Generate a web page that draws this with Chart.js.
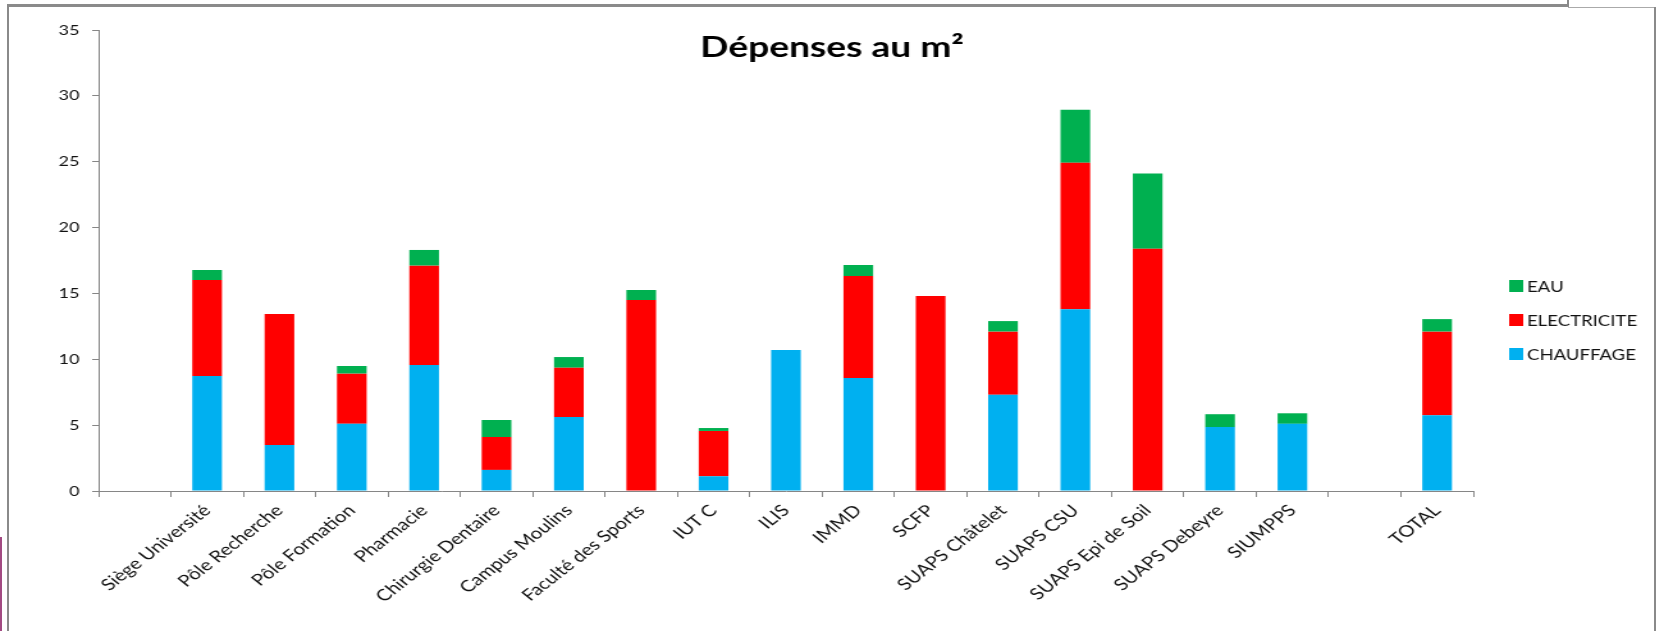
<!DOCTYPE html>
<html>
<head>
<meta charset="utf-8">
<title>Dépenses au m²</title>
<script src="https://cdn.jsdelivr.net/npm/chart.js@4.4.1/dist/chart.umd.min.js"></script>
<style>
  body { margin: 0; background: #fff; }
  #wrap { position: relative; width: 1657px; height: 631px; overflow: hidden; }
  /* the original screenshot is stretched sideways, so draw narrow and stretch the same way */
  #wrap canvas { position: absolute; left: 0; top: 0; transform: scaleX(1.28); transform-origin: 0 0; }
  .line { position: absolute; background: #8a8a8a; }
</style>
</head>
<body>
<div id="wrap">
  <canvas id="chart" width="1295" height="631"></canvas>
  <!-- sheet frame around the chart -->
  <div class="line" style="left:7px; top:4px; width:1562px; height:3px;"></div>
  <div class="line" style="left:1567px; top:0; width:2px; height:7px;"></div>
  <div class="line" style="left:1568px; top:7px; width:88px; height:1px; background:#aaa;"></div>
  <div class="line" style="left:1654px; top:7px; width:2px; height:624px;"></div>
  <div class="line" style="left:7px; top:4px; width:2px; height:627px;"></div>
  <div class="line" style="left:0; top:537px; width:2px; height:94px; background:#a24a82;"></div>
</div>
<script>
// ===== DATA =====
const categories = ['', 'Siège Université', 'Pôle Recherche', 'Pôle Formation', 'Pharmacie',
  'Chirurgie Dentaire', 'Campus Moulins', 'Faculté des Sports', 'IUT C', 'ILIS', 'IMMD', 'SCFP',
  'SUAPS Châtelet', 'SUAPS CSU', 'SUAPS Epi de Soil', 'SUAPS Debeyre', 'SIUMPPS', '', 'TOTAL'];

const chauffage   = [null, 8.73, 3.49, 5.11, 9.57, 1.6, 5.62, null, 1.12, 10.71, 8.58, null, 7.3, 13.8, null, 4.85, 5.1, null, 5.75];
const electricite = [null, 7.29, 9.95, 3.8, 7.54, 2.5, 3.74, 14.5, 3.44, null, 7.74, 14.8, 4.8, 11.13, 18.4, null, null, null, 6.35];
const eau         = [null, 0.76, null, 0.58, 1.19, 1.29, 0.81, 0.76, 0.22, null, 0.84, null, 0.8, 4.02, 5.7, 0.98, 0.8, null, 0.95];

const yTicks = [0, 5, 10, 15, 20, 25, 30, 35];

const FONT = "Lato, 'Open Sans', sans-serif";
const AXIS_GREY = '#868686';

// ===== TITLE + LEGEND (drawn over the plot like in Excel) =====
const titleAndLegend = {
  id: 'titleAndLegend',
  afterDraw(chart) {
    const ctx = chart.ctx;
    ctx.save();
    ctx.fillStyle = '#000';
    ctx.font = 'bold 29px ' + FONT;
    ctx.textAlign = 'center';
    ctx.textBaseline = 'alphabetic';
    ctx.fillText('Dépenses au m²', 650, 57);

    // legend, top item = last dataset
    ctx.font = '14.5px ' + FONT;
    ctx.textAlign = 'left';
    ctx.textBaseline = 'middle';
    const sets = chart.data.datasets.slice().reverse();
    sets.forEach((ds, i) => {
      const y = 286 + i * 34;
      ctx.fillStyle = ds.backgroundColor;
      ctx.fillRect(1179, y - 6, 11, 12);
      ctx.fillStyle = '#111';
      ctx.fillText(ds.label, 1193, y + 1);
    });
    ctx.restore();
  }
};

// ===== CHART =====
new Chart(document.getElementById('chart'), {
  type: 'bar',
  data: {
    labels: categories,
    datasets: [
      { label: 'CHAUFFAGE',   data: chauffage,   backgroundColor: '#00B0F0' },
      { label: 'ELECTRICITE', data: electricite, backgroundColor: '#FF0000' },
      { label: 'EAU',         data: eau,         backgroundColor: '#00B050' }
    ]
  },
  options: {
    responsive: false,
    animation: false,
    devicePixelRatio: 1,
    datasets: {
      bar: { categoryPercentage: 0.41, barPercentage: 1, borderWidth: 0 }
    },
    layout: { padding: { top: 30, right: 144, bottom: 0, left: 0 } },
    plugins: {
      legend: { display: false },
      title: { display: false },
      tooltip: { enabled: false }
    },
    scales: {
      x: {
        stacked: true,
        grid: { offset: true, drawOnChartArea: false, color: AXIS_GREY, tickLength: 6 },
        border: { color: AXIS_GREY, width: 1 },
        ticks: {
          autoSkip: false,
          minRotation: 45,
          maxRotation: 45,
          padding: 4,
          color: '#111',
          font: { family: FONT, size: 16 }
        },
        afterFit(scale) { scale.height = 140; }
      },
      y: {
        stacked: true,
        min: 0,
        max: 35,
        grid: { drawOnChartArea: false, color: AXIS_GREY, tickLength: 5 },
        border: { color: AXIS_GREY, width: 1 },
        afterBuildTicks(scale) { scale.ticks = yTicks.map(v => ({ value: v })); },
        ticks: {
          padding: 10,
          color: '#111',
          font: { family: FONT, size: 14 }
        },
        afterFit(scale) { scale.width = 77; }
      }
    }
  },
  plugins: [titleAndLegend]
});
</script>
</body>
</html>
